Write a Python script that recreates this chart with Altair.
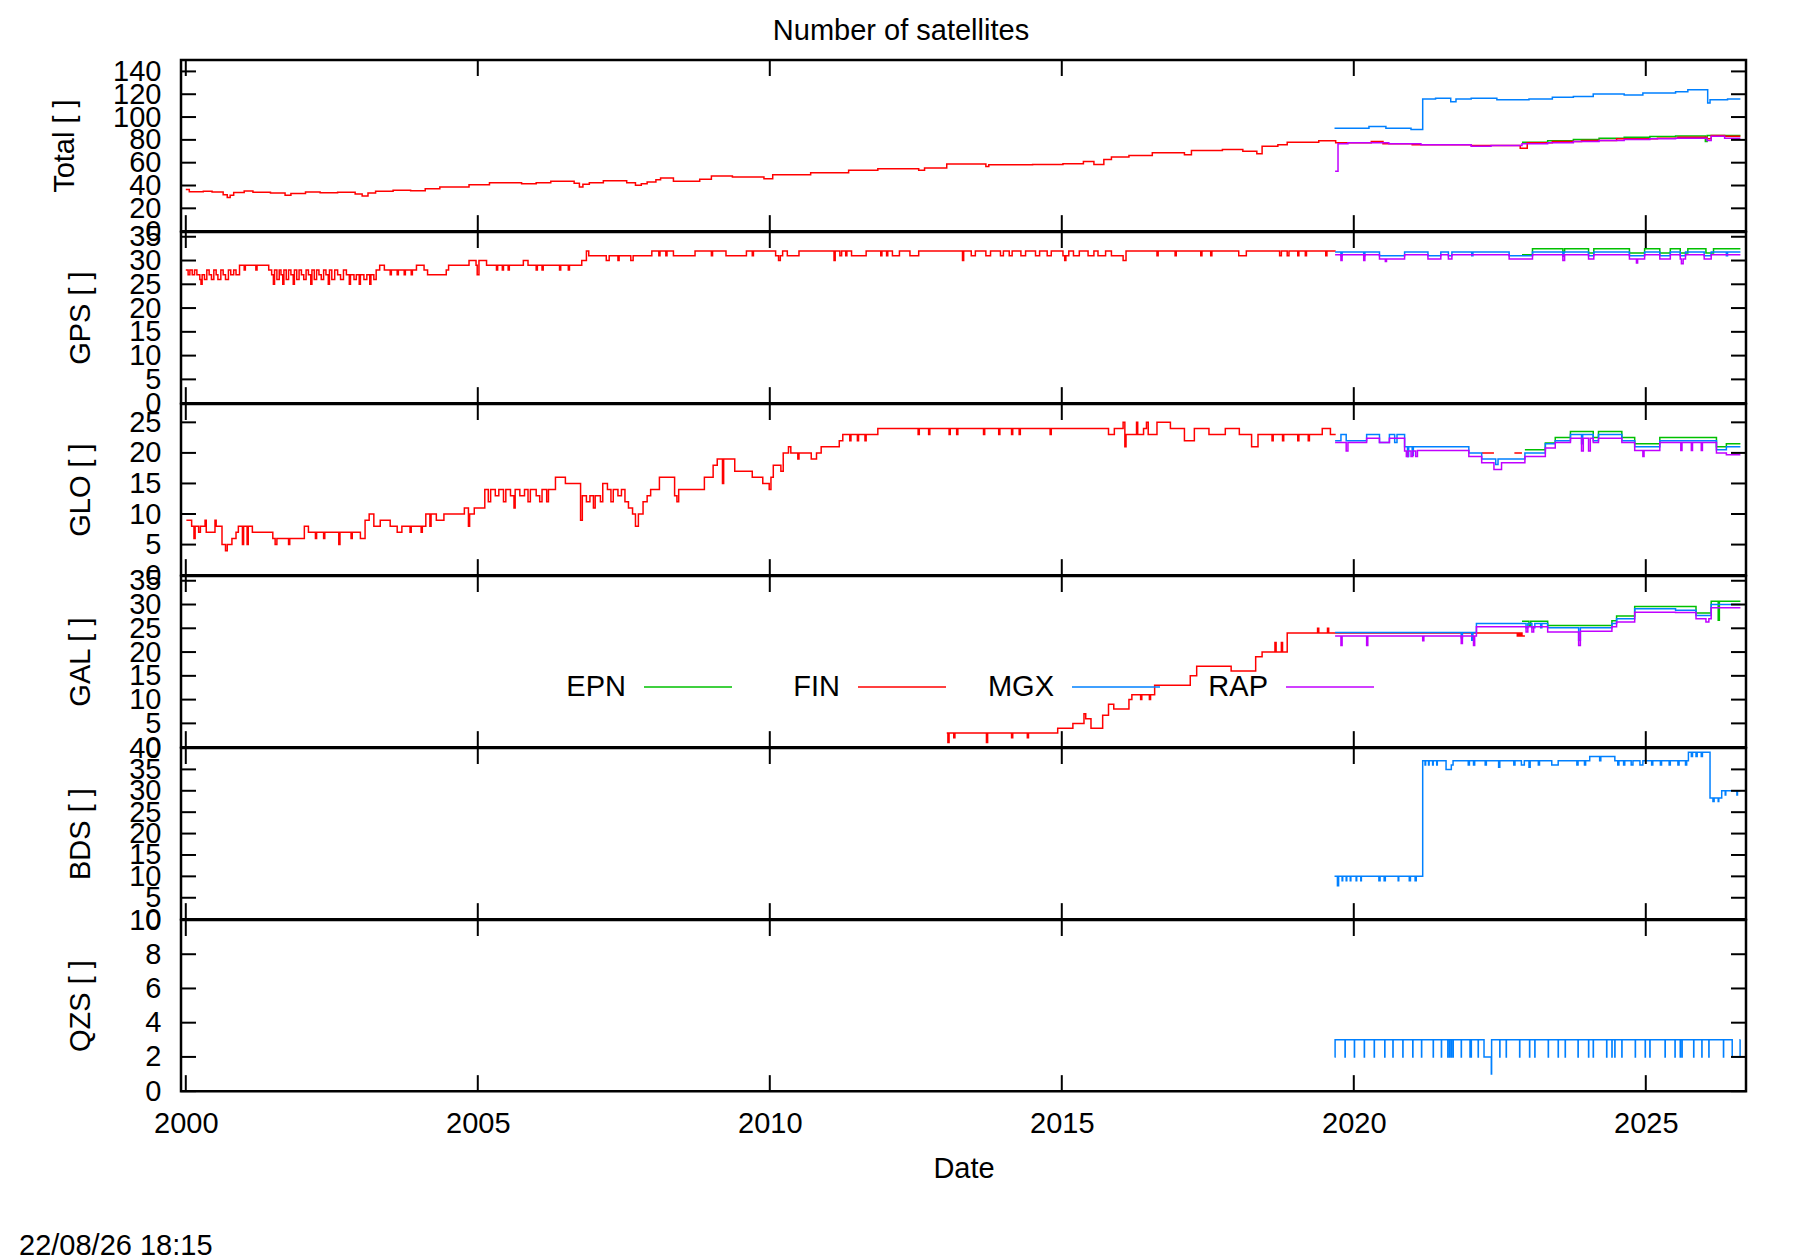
import altair as alt
import pandas as pd

# ---------------- axis ranges / ticks ----------------
X0, X1 = 1999.918, 2026.716
YEAR_TICKS = [2000, 2005, 2010, 2015, 2020, 2025]
TOT_TICKS = [0, 20, 40, 60, 80, 100, 120, 140]
GPS_TICKS = [0, 5, 10, 15, 20, 25, 30, 35]
GLO_TICKS = [0, 5, 10, 15, 20, 25]
GAL_TICKS = [0, 5, 10, 15, 20, 25, 30, 35]
BDS_TICKS = [0, 5, 10, 15, 20, 25, 30, 35, 40]
QZS_TICKS = [0, 2, 4, 6, 8, 10]
SERIES = ["EPN", "FIN", "MGX", "RAP"]
COLORS = ["#00c000", "#ff0000", "#0080ff", "#c000ff"]
STAMP = "22/08/26 18:15"

# ---------------- Total ----------------
TOT_FIN = [(2000.00, 36.4), (2000.06, 34.5), (2000.30, 35.0), (2000.45, 34.3), (2000.64, 32.0), (2000.71, 29.5),
           (2000.76, 31.5), (2000.82, 33.8), (2001.00, 35.2), (2001.15, 34.0), (2001.45, 33.5), (2001.70, 31.4),
           (2001.80, 33.0), (2002.05, 34.3), (2002.30, 33.6), (2002.60, 34.0), (2002.90, 32.5), (2003.02, 30.8),
           (2003.12, 33.5), (2003.25, 34.9), (2003.55, 35.8), (2003.85, 35.5), (2004.10, 37.2), (2004.35, 38.7),
           (2004.85, 40.7), (2005.20, 42.5), (2005.75, 41.6), (2006.00, 42.5), (2006.25, 43.7), (2006.65, 42.0),
           (2006.74, 38.7), (2006.80, 41.0), (2006.91, 42.5), (2007.15, 44.2), (2007.55, 42.5), (2007.70, 40.2),
           (2007.80, 41.5), (2007.90, 43.0), (2008.05, 45.0), (2008.13, 46.6), (2008.35, 43.7), (2008.80, 45.5),
           (2009.00, 48.3), (2009.36, 47.4), (2009.90, 46.0), (2010.05, 49.5), (2010.70, 51.2), (2011.35, 53.3),
           (2011.85, 54.7), (2012.55, 53.3), (2012.65, 55.3), (2013.03, 58.8), (2013.70, 56.7), (2013.75, 58.2),
           (2014.50, 58.5), (2015.02, 59.0), (2015.37, 61.1), (2015.55, 58.5), (2015.72, 62.9), (2015.85, 64.9),
           (2016.15, 66.3), (2016.55, 68.7), (2017.10, 66.9), (2017.22, 70.7), (2017.75, 71.6), (2018.10, 70.1),
           (2018.34, 67.8), (2018.43, 74.5), (2018.70, 75.7), (2018.86, 78.0), (2019.40, 79.2), (2019.69, 77.4),
           (2020.30, 78.6), (2020.50, 76.5), (2021.00, 75.7), (2022.01, 75.0), (2022.85, 72.7), (2022.97, 77.4),
           (2023.40, 78.6), (2023.90, 79.4), (2024.50, 80.9), (2025.20, 81.5), (2025.55, 82.4), (2026.05, 80.9),
           (2026.12, 83.8), (2026.35, 83.2), (2026.62, 83.2)]
TOT_MGX = [(2019.67, 90.2), (2020.26, 91.7), (2020.55, 90.2), (2020.98, 89.0), (2021.18, 115.8), (2021.40, 116.4),
           (2021.66, 113.5), (2021.75, 115.8), (2022.01, 116.4), (2022.45, 115.2), (2023.00, 115.8), (2023.40, 117.3),
           (2023.76, 118.1), (2024.10, 120.2), (2024.63, 119.3), (2024.95, 121.1), (2025.51, 122.2), (2025.72, 124.0),
           (2026.06, 112.3), (2026.10, 115.2), (2026.40, 115.8), (2026.62, 115.8)]
TOT_RAP = [(2019.68, 52.4), (2019.73, 76.5), (2019.90, 77.4), (2020.60, 76.5), (2021.15, 75.7), (2022.01, 74.5),
           (2022.35, 75.0), (2022.88, 76.5), (2023.32, 77.4), (2023.76, 78.6), (2024.20, 79.4), (2024.63, 80.3),
           (2025.07, 80.9), (2025.51, 81.5), (2026.05, 79.4), (2026.12, 83.2), (2026.35, 81.5), (2026.62, 81.5)]
TOT_EPN = [(2022.88, 78.0), (2023.32, 79.2), (2023.76, 80.3), (2024.20, 81.5), (2024.63, 82.4), (2025.07, 82.9),
           (2025.51, 83.5), (2026.02, 78.6), (2026.05, 83.8), (2026.62, 83.8)]

# ---------------- GPS ----------------
GPS_FIN = [(2000.00, 28), (2000.04, 27), (2000.07, 28), (2000.11, 27), (2000.15, 28), (2000.19, 27), (2000.24, 26),
           (2000.26, 25), (2000.28, 27), (2000.32, 26), (2000.36, 28), (2000.40, 27), (2000.44, 26), (2000.48, 28),
           (2000.52, 27), (2000.55, 26), (2000.60, 28), (2000.64, 27), (2000.68, 26), (2000.73, 28), (2000.77, 27),
           (2000.82, 28), (2000.86, 27), (2000.92, 29), (2001.00, 28), (2001.02, 29), (2001.20, 28), (2001.22, 29),
           (2001.42, 28), (2001.47, 27), (2001.50, 25), (2001.52, 28), (2001.56, 26), (2001.60, 28), (2001.63, 27),
           (2001.66, 25), (2001.68, 28), (2001.72, 26), (2001.76, 28), (2001.80, 27), (2001.84, 25), (2001.86, 28),
           (2001.90, 26), (2001.94, 28), (2001.98, 27), (2002.02, 26), (2002.06, 28), (2002.10, 27), (2002.14, 25),
           (2002.16, 28), (2002.20, 26), (2002.24, 28), (2002.28, 27), (2002.32, 26), (2002.36, 28), (2002.40, 27),
           (2002.44, 25), (2002.46, 28), (2002.50, 26), (2002.55, 28), (2002.60, 27), (2002.65, 26), (2002.70, 28),
           (2002.75, 27), (2002.80, 25), (2002.82, 27), (2002.88, 26), (2002.92, 27), (2002.97, 25), (2002.99, 27),
           (2003.05, 26), (2003.10, 27), (2003.15, 25), (2003.17, 27), (2003.22, 26), (2003.26, 28), (2003.32, 29),
           (2003.40, 28), (2003.50, 27), (2003.52, 28), (2003.62, 27), (2003.64, 28), (2003.74, 27), (2003.76, 28),
           (2003.86, 27), (2003.88, 28), (2003.95, 29), (2004.08, 28), (2004.14, 27), (2004.46, 28), (2004.50, 29),
           (2004.85, 30), (2004.97, 29), (2004.99, 27), (2005.02, 30), (2005.15, 29), (2005.32, 28), (2005.34, 29),
           (2005.42, 28), (2005.44, 29), (2005.52, 28), (2005.54, 29), (2005.78, 30), (2005.86, 29), (2006.00, 28),
           (2006.02, 29), (2006.10, 28), (2006.12, 29), (2006.40, 28), (2006.42, 29), (2006.55, 28), (2006.57, 29),
           (2006.78, 30), (2006.86, 32), (2006.90, 31), (2007.20, 30), (2007.25, 31), (2007.40, 30), (2007.42, 31),
           (2007.62, 30), (2007.66, 31), (2007.98, 32), (2008.10, 31), (2008.12, 32), (2008.22, 31), (2008.24, 32),
           (2008.35, 31), (2008.72, 32), (2009.00, 31), (2009.02, 32), (2009.25, 31), (2009.60, 32), (2009.70, 31),
           (2009.72, 32), (2010.10, 31), (2010.15, 30), (2010.18, 31), (2010.22, 32), (2010.30, 31), (2010.50, 32),
           (2011.10, 30), (2011.12, 32), (2011.20, 31), (2011.23, 32), (2011.30, 31), (2011.32, 32), (2011.40, 31),
           (2011.65, 32), (2011.90, 31), (2011.92, 32), (2012.00, 31), (2012.02, 32), (2012.10, 31), (2012.22, 32),
           (2012.40, 31), (2012.55, 32), (2013.30, 30), (2013.32, 32), (2013.45, 31), (2013.52, 32), (2013.70, 31),
           (2013.78, 32), (2013.95, 31), (2014.00, 32), (2014.10, 31), (2014.15, 32), (2014.30, 31), (2014.38, 32),
           (2014.55, 31), (2014.62, 32), (2014.75, 31), (2014.82, 32), (2015.02, 31), (2015.05, 30), (2015.07, 31),
           (2015.12, 32), (2015.20, 31), (2015.30, 32), (2015.45, 31), (2015.55, 32), (2015.62, 31), (2015.75, 32),
           (2015.85, 31), (2016.05, 30), (2016.10, 32), (2016.63, 31), (2016.65, 32), (2016.94, 31), (2016.96, 32),
           (2017.38, 31), (2017.40, 32), (2017.55, 31), (2017.57, 32), (2018.03, 31), (2018.16, 32), (2018.73, 31),
           (2018.76, 32), (2018.86, 31), (2018.89, 32), (2019.04, 31), (2019.06, 32), (2019.17, 31), (2019.19, 32),
           (2019.52, 31), (2019.54, 32), (2019.69, 32)]
GPS_MGX = [(2019.68, 31.8), (2019.78, 31.0), (2019.80, 31.8), (2020.17, 31.0), (2020.19, 31.8), (2020.44, 31.0),
           (2020.87, 31.8), (2021.27, 31.0), (2021.49, 31.8), (2021.62, 31.0), (2021.68, 31.8), (2022.02, 31.0),
           (2022.04, 31.8), (2022.66, 31.0), (2023.06, 31.8), (2023.58, 30.9), (2023.60, 31.8), (2024.02, 31.0),
           (2024.11, 31.8), (2024.72, 31.0), (2024.98, 31.8), (2025.24, 31.0), (2025.42, 31.8), (2025.59, 31.0),
           (2025.68, 31.8), (2026.00, 31.0), (2026.12, 31.8), (2026.38, 31.0), (2026.40, 31.8), (2026.62, 31.8)]
GPS_RAP = [(2019.68, 31.2), (2019.78, 30.0), (2019.80, 31.2), (2020.17, 30.0), (2020.19, 31.2), (2020.44, 30.3),
           (2020.54, 29.8), (2020.56, 30.3), (2020.87, 31.2), (2021.27, 30.3), (2021.49, 31.2), (2021.62, 30.3),
           (2021.68, 31.2), (2022.66, 30.3), (2023.06, 31.2), (2023.58, 30.0), (2023.61, 31.2), (2024.02, 30.3),
           (2024.11, 31.2), (2024.72, 30.3), (2024.84, 29.5), (2024.86, 30.3), (2024.98, 31.2), (2025.24, 30.3),
           (2025.42, 31.2), (2025.59, 30.3), (2025.61, 29.3), (2025.64, 30.3), (2025.68, 31.2), (2026.00, 30.3),
           (2026.12, 31.2), (2026.62, 31.2)]
GPS_EPN = [(2022.88, 31.2), (2023.06, 32.5), (2023.58, 31.8), (2023.61, 32.5), (2024.02, 31.6), (2024.11, 32.5),
           (2024.72, 31.6), (2024.98, 32.5), (2025.24, 31.6), (2025.42, 32.5), (2025.59, 31.6), (2025.72, 32.5),
           (2026.03, 31.6), (2026.16, 32.5), (2026.62, 32.5)]

# ---------------- GLONASS ----------------
GLO_FIN = [(2000.01, 9), (2000.10, 8), (2000.14, 6), (2000.16, 8), (2000.22, 7), (2000.25, 8), (2000.33, 9),
           (2000.35, 7), (2000.45, 7), (2000.50, 9), (2000.52, 8), (2000.62, 5), (2000.68, 4), (2000.71, 5),
           (2000.79, 6), (2000.86, 7), (2000.90, 8), (2000.97, 5), (2000.99, 8), (2001.05, 5), (2001.07, 8),
           (2001.14, 7), (2001.49, 6), (2001.53, 5), (2001.56, 6), (2001.76, 5), (2001.78, 6), (2002.03, 8),
           (2002.10, 7), (2002.22, 6), (2002.24, 7), (2002.36, 6), (2002.38, 7), (2002.62, 5), (2002.64, 7),
           (2002.83, 6), (2002.85, 7), (2002.99, 6), (2003.07, 9), (2003.14, 10), (2003.22, 8), (2003.33, 9),
           (2003.50, 8), (2003.62, 7), (2003.70, 8), (2003.84, 7), (2003.86, 8), (2004.03, 7), (2004.05, 8),
           (2004.11, 10), (2004.18, 8), (2004.20, 10), (2004.29, 9), (2004.42, 10), (2004.77, 11), (2004.84, 8),
           (2004.86, 10), (2004.94, 11), (2005.12, 14), (2005.18, 12), (2005.22, 14), (2005.30, 13), (2005.36, 14),
           (2005.44, 12), (2005.48, 14), (2005.56, 13), (2005.62, 11), (2005.64, 14), (2005.72, 13), (2005.80, 14),
           (2005.86, 12), (2005.90, 14), (2006.00, 13), (2006.06, 12), (2006.10, 14), (2006.18, 12), (2006.21, 14),
           (2006.33, 16), (2006.50, 15), (2006.76, 9), (2006.79, 13), (2006.86, 12), (2006.92, 13), (2006.98, 11),
           (2007.01, 13), (2007.10, 12), (2007.14, 15), (2007.22, 14), (2007.28, 12), (2007.32, 14), (2007.40, 13),
           (2007.46, 14), (2007.52, 12), (2007.58, 11), (2007.65, 10), (2007.70, 8), (2007.75, 10), (2007.83, 12),
           (2007.90, 13), (2007.96, 14), (2008.11, 16), (2008.37, 13), (2008.41, 12), (2008.44, 14), (2008.88, 16),
           (2009.03, 18), (2009.10, 19), (2009.19, 15), (2009.21, 19), (2009.40, 17), (2009.70, 16), (2009.88, 15),
           (2009.99, 14), (2010.02, 16), (2010.06, 18), (2010.19, 17), (2010.23, 20), (2010.32, 21), (2010.36, 20),
           (2010.48, 19), (2010.50, 20), (2010.71, 19), (2010.80, 20), (2010.88, 21), (2011.19, 22), (2011.25, 23),
           (2011.37, 22), (2011.39, 23), (2011.50, 22), (2011.52, 23), (2011.63, 22), (2011.65, 23), (2011.85, 24),
           (2012.54, 23), (2012.56, 24), (2012.72, 23), (2012.74, 24), (2013.07, 23), (2013.09, 24), (2013.20, 23),
           (2013.22, 24), (2013.66, 23), (2013.68, 24), (2013.92, 23), (2013.94, 24), (2014.14, 23), (2014.16, 24),
           (2014.27, 23), (2014.29, 24), (2014.80, 23), (2014.82, 24), (2015.80, 23), (2015.90, 24), (2016.05, 25),
           (2016.08, 21), (2016.10, 23), (2016.28, 25), (2016.30, 23), (2016.40, 24), (2016.45, 25), (2016.48, 23),
           (2016.63, 25), (2016.86, 24), (2017.10, 22), (2017.27, 24), (2017.52, 23), (2017.80, 24), (2018.04, 23),
           (2018.25, 21), (2018.36, 23), (2018.60, 22), (2018.62, 23), (2018.78, 22), (2018.80, 23), (2019.04, 22),
           (2019.06, 23), (2019.22, 22), (2019.24, 23), (2019.46, 24), (2019.60, 23), (2019.69, 23)]
GLO_FIN_B = [(2022.19, 20), (2022.40, 20)]
GLO_FIN_C = [(2022.75, 20), (2022.88, 20)]
GLO_MGX = [(2019.68, 22), (2019.78, 23), (2019.87, 22), (2020.22, 23), (2020.44, 21.7), (2020.61, 23), (2020.70, 21.7),
           (2020.74, 23), (2020.87, 21), (2020.92, 19.4), (2020.94, 21), (2021.00, 19.6), (2021.02, 21), (2021.97, 20),
           (2022.19, 19), (2022.43, 18.1), (2022.47, 19), (2022.93, 20), (2023.28, 21.5), (2023.45, 22), (2023.71, 23),
           (2023.90, 21.5), (2023.92, 23), (2024.10, 22), (2024.19, 23), (2024.59, 22), (2024.81, 21), (2025.24, 22),
           (2026.21, 20.5), (2026.38, 21), (2026.62, 21)]
GLO_RAP = [(2019.68, 21.7), (2019.87, 20.3), (2019.90, 21.7), (2020.22, 22.4), (2020.44, 21.7), (2020.61, 22.4),
           (2020.87, 20.3), (2020.90, 19.4), (2020.93, 20.3), (2020.98, 19.4), (2021.01, 20.3), (2021.06, 19.4),
           (2021.09, 20.4), (2021.97, 19.4), (2022.19, 18.4), (2022.40, 17.3), (2022.53, 18.4), (2022.93, 19.4),
           (2023.28, 20.8), (2023.45, 21.7), (2023.71, 22.4), (2023.90, 20.3), (2023.93, 22.4), (2024.02, 20.3),
           (2024.05, 22.4), (2024.10, 21.7), (2024.19, 22.4), (2024.59, 21.7), (2024.81, 20.4), (2024.95, 19.4),
           (2024.97, 20.4), (2025.24, 21.7), (2025.60, 20.4), (2025.62, 21.7), (2025.78, 20.4), (2025.80, 21.7),
           (2025.95, 20.4), (2025.97, 21.7), (2026.21, 20.0), (2026.38, 19.7), (2026.62, 19.7)]
GLO_EPN = [(2022.93, 20.5), (2023.28, 21.6), (2023.45, 22.5), (2023.71, 23.5), (2024.10, 22.5), (2024.19, 23.5),
           (2024.59, 22.5), (2024.81, 21.5), (2025.24, 22.5), (2026.21, 21.0), (2026.38, 21.5), (2026.62, 21.5)]

# ---------------- Galileo ----------------
GAL_FIN = [(2013.03, 3), (2013.05, 1), (2013.07, 3), (2013.15, 2), (2013.17, 3), (2013.71, 1), (2013.73, 3),
           (2014.14, 2), (2014.16, 3), (2014.41, 2), (2014.43, 3), (2014.93, 4), (2015.19, 5), (2015.38, 7),
           (2015.41, 6), (2015.50, 4), (2015.70, 6.7), (2015.80, 9), (2015.89, 8), (2016.15, 10), (2016.20, 11),
           (2016.35, 10), (2016.37, 11), (2016.50, 10), (2016.52, 11), (2016.59, 13), (2017.20, 15), (2017.31, 17),
           (2017.90, 16), (2018.32, 19), (2018.43, 20), (2018.65, 22), (2018.67, 20), (2018.76, 22), (2018.78, 20),
           (2018.86, 24), (2019.38, 25), (2019.40, 24), (2019.55, 25), (2019.57, 24), (2022.80, 23.4), (2022.82, 24),
           (2022.84, 23.4), (2022.86, 24), (2022.88, 23.4), (2022.93, 23.4)]
GAL_MGX = [(2019.68, 24.1), (2021.84, 23.0), (2021.86, 24.1), (2022.02, 22.5), (2022.04, 24.1), (2022.10, 26.0),
           (2022.95, 25.1), (2022.98, 26.0), (2023.05, 25.1), (2023.10, 26.0), (2023.20, 25.1), (2023.22, 26.0),
           (2023.32, 25.1), (2023.85, 22.5), (2023.88, 25.1), (2024.42, 26.0), (2024.50, 27.0), (2024.81, 29.1),
           (2025.51, 28.8), (2025.86, 27.7), (2026.12, 30.0), (2026.62, 30.0)]
GAL_RAP = [(2019.68, 23.4), (2019.78, 21.4), (2019.80, 23.4), (2020.22, 21.4), (2020.24, 23.4), (2021.18, 22.4),
           (2021.20, 23.4), (2021.84, 21.8), (2021.86, 23.4), (2022.05, 21.4), (2022.07, 23.4), (2022.10, 25.3),
           (2022.95, 24.2), (2022.98, 25.3), (2023.05, 24.2), (2023.08, 25.3), (2023.32, 24.2), (2023.85, 21.4),
           (2023.88, 24.4), (2024.42, 25.3), (2024.50, 26.3), (2024.81, 28.4), (2025.51, 28.3), (2025.86, 27.0),
           (2026.03, 26.3), (2026.08, 27.0), (2026.12, 29.3), (2026.62, 29.3)]
GAL_EPN = [(2022.88, 26.5), (2023.00, 25.6), (2023.03, 26.5), (2023.32, 25.6), (2024.42, 26.6), (2024.50, 27.6),
           (2024.81, 29.6), (2025.86, 28.2), (2026.12, 30.7), (2026.24, 26.7), (2026.26, 30.7), (2026.62, 30.7)]

# ---------------- BeiDou ----------------
BDS_MGX = [(2019.67, 10), (2019.72, 7.8), (2019.74, 10), (2019.80, 9), (2019.81, 10), (2019.87, 9), (2019.88, 10),
           (2019.94, 9), (2019.95, 10), (2020.04, 9), (2020.05, 10), (2020.12, 9), (2020.13, 10), (2020.43, 9),
           (2020.45, 10), (2020.52, 9), (2020.54, 10), (2020.76, 9), (2020.77, 10), (2020.95, 9), (2020.97, 10),
           (2021.05, 9), (2021.07, 10), (2021.18, 37), (2021.22, 36), (2021.23, 37), (2021.28, 36), (2021.29, 37),
           (2021.35, 36), (2021.36, 37), (2021.42, 36), (2021.43, 37), (2021.58, 35), (2021.67, 36), (2021.70, 37),
           (2021.96, 36), (2021.98, 37), (2022.05, 36), (2022.07, 37), (2022.25, 36), (2022.27, 37), (2022.48, 35.5),
           (2022.50, 37), (2022.74, 36), (2022.76, 37), (2022.87, 36), (2022.92, 37), (2023.00, 35.5), (2023.02, 37),
           (2023.16, 36), (2023.18, 37), (2023.39, 36), (2023.50, 37), (2023.82, 36), (2023.84, 37), (2023.95, 36),
           (2023.97, 37), (2024.04, 38), (2024.21, 37), (2024.23, 38), (2024.47, 37), (2024.52, 36), (2024.54, 37),
           (2024.62, 36), (2024.64, 37), (2024.75, 36), (2024.78, 37), (2024.90, 36), (2024.95, 37), (2025.10, 36),
           (2025.12, 37), (2025.25, 36), (2025.27, 37), (2025.40, 36), (2025.42, 37), (2025.55, 36), (2025.57, 37),
           (2025.68, 36), (2025.70, 37), (2025.73, 39), (2025.78, 38), (2025.80, 39), (2025.86, 38), (2025.88, 39),
           (2025.95, 38), (2025.97, 39), (2026.10, 28.3), (2026.15, 27.5), (2026.17, 28.3), (2026.24, 27.5),
           (2026.25, 28.3), (2026.30, 30), (2026.36, 29), (2026.37, 30), (2026.56, 29), (2026.57, 30), (2026.62, 30)]

# ---------------- QZSS ----------------
QZS_MGX = [(2019.67, 2), (2019.68, 3), (2019.85, 2), (2019.853, 3), (2020.01, 2), (2020.013, 3), (2020.18, 2),
           (2020.183, 3), (2020.35, 2), (2020.353, 3), (2020.53, 2), (2020.533, 3), (2020.67, 2), (2020.673, 3),
           (2020.84, 2), (2020.843, 3), (2021.01, 2), (2021.013, 3), (2021.16, 2), (2021.163, 3), (2021.36, 2),
           (2021.363, 3), (2021.50, 2), (2021.503, 3), (2021.61, 2), (2021.613, 3), (2021.64, 2), (2021.643, 3),
           (2021.67, 2), (2021.673, 3), (2021.70, 2), (2021.703, 3), (2021.84, 2), (2021.843, 3), (2021.99, 2),
           (2021.993, 3), (2022.01, 2), (2022.013, 3), (2022.13, 2), (2022.133, 3), (2022.23, 2), (2022.355, 1),
           (2022.36, 3), (2022.50, 2), (2022.503, 3), (2022.61, 2), (2022.613, 3), (2022.84, 2), (2022.843, 3),
           (2023.01, 2), (2023.013, 3), (2023.10, 2), (2023.103, 3), (2023.33, 2), (2023.333, 3), (2023.50, 2),
           (2023.503, 3), (2023.62, 2), (2023.623, 3), (2023.84, 2), (2023.843, 3), (2024.02, 2), (2024.023, 3),
           (2024.10, 2), (2024.103, 3), (2024.33, 2), (2024.333, 3), (2024.42, 2), (2024.423, 3), (2024.47, 2),
           (2024.473, 3), (2024.59, 2), (2024.593, 3), (2024.82, 2), (2024.823, 3), (2024.99, 2), (2024.993, 3),
           (2025.07, 2), (2025.073, 3), (2025.33, 2), (2025.333, 3), (2025.50, 2), (2025.503, 3), (2025.59, 2),
           (2025.593, 3), (2025.62, 2), (2025.623, 3), (2025.82, 2), (2025.823, 3), (2025.96, 2), (2025.963, 3),
           (2026.08, 2), (2026.083, 3), (2026.33, 2), (2026.333, 3), (2026.48, 2), (2026.615, 3), (2026.62, 3)]

# ---------------- layout / style ----------------
W, H = 1565, 171.15
FONT = "Liberation Sans"
FS = 29
TICK_LEN_Y, TICK_LEN_X = 15, 16


def seg_frame(segs):
    rows = []
    for k, seg in enumerate(segs):
        for t, v in seg:
            rows.append({"t": t, "v": v, "seg": k})
    return pd.DataFrame(rows)


def panel(ytitle, ymax, yticks, series, bottom=False, extra=()):
    xs = alt.Scale(domain=[X0, X1], nice=False, zero=False)
    ys = alt.Scale(domain=[0, ymax], nice=False, zero=False)
    yaxis = alt.Axis(values=yticks, title=ytitle, format="d", labelFont=FONT, labelFontSize=FS,
                     labelColor="black", labelPadding=20, labelOverlap=False, labelFlush=False,
                     titleFont=FONT, titleFontSize=FS, titleFontWeight="normal", titleColor="black",
                     titlePadding=33, domain=False, ticks=False, tickSize=0, grid=False)
    if bottom:
        xaxis = alt.Axis(values=YEAR_TICKS, title="Date", format="d", labelFont=FONT, labelFontSize=FS,
                         labelColor="black", labelPadding=18, labelOverlap=False, labelFlush=False,
                         titleFont=FONT, titleFontSize=FS, titleFontWeight="normal", titleColor="black",
                         titlePadding=16, domain=False, ticks=False, tickSize=0, grid=False)
    else:
        xaxis = None
    X = alt.X("t:Q", scale=xs, axis=xaxis, title="Date")
    Y = alt.Y("v:Q", scale=ys, axis=yaxis, title=ytitle)
    layers = []
    for name, color in zip(SERIES, COLORS):
        if name not in series:
            continue
        layers.append(
            alt.Chart(seg_frame(series[name])).mark_line(
                interpolate="step-after", color=color, strokeWidth=1.5, clip=True
            ).encode(x=X, y=Y, detail="seg:N")
        )
    ydf = pd.DataFrame({"v": yticks})
    xdf = pd.DataFrame({"t": YEAR_TICKS})
    rule = dict(color="black", strokeWidth=2)
    layers += [
        alt.Chart(ydf).mark_rule(**rule).encode(y=Y, x=alt.value(0), x2=alt.value(TICK_LEN_Y)),
        alt.Chart(ydf).mark_rule(**rule).encode(y=Y, x=alt.value(W - TICK_LEN_Y), x2=alt.value(W)),
        alt.Chart(xdf).mark_rule(**rule).encode(x=X, y=alt.value(0), y2=alt.value(TICK_LEN_X)),
        alt.Chart(xdf).mark_rule(**rule).encode(x=X, y=alt.value(H - TICK_LEN_X), y2=alt.value(H)),
    ]
    layers += list(extra)
    return alt.layer(*layers).properties(width=W, height=H)


one = pd.DataFrame({"a": [0]})


def label(text, x, y, align):
    return alt.Chart(one).mark_text(font=FONT, fontSize=FS, color="black", align=align,
                                    baseline="middle").encode(
        x=alt.value(x), y=alt.value(y), text=alt.value(text))


title_mark = label("Number of satellites", 720, -29, "center")
stamp_mark = label(STAMP, -162, 326, "left")

legend_marks = []
for i, (name, color) in enumerate(zip(SERIES, COLORS)):
    legend_marks.append(label(name, 445 + 214 * i, 111, "right"))
    legend_marks.append(
        alt.Chart(one).mark_rule(color=color, strokeWidth=1.5).encode(
            x=alt.value(463 + 214 * i), x2=alt.value(551 + 214 * i), y=alt.value(111)))

p_tot = panel("Total [ ]", 150, TOT_TICKS,
              {"EPN": [TOT_EPN], "FIN": [TOT_FIN], "MGX": [TOT_MGX], "RAP": [TOT_RAP]},
              extra=[title_mark])
p_gps = panel("GPS [ ]", 36, GPS_TICKS,
              {"EPN": [GPS_EPN], "FIN": [GPS_FIN], "MGX": [GPS_MGX], "RAP": [GPS_RAP]})
p_glo = panel("GLO [ ]", 28, GLO_TICKS,
              {"EPN": [GLO_EPN], "FIN": [GLO_FIN, GLO_FIN_B, GLO_FIN_C], "MGX": [GLO_MGX], "RAP": [GLO_RAP]})
p_gal = panel("GAL [ ]", 36, GAL_TICKS,
              {"EPN": [GAL_EPN], "FIN": [GAL_FIN], "MGX": [GAL_MGX], "RAP": [GAL_RAP]},
              extra=legend_marks)
p_bds = panel("BDS [ ]", 40, BDS_TICKS, {"MGX": [BDS_MGX]})
p_qzs = panel("QZS [ ]", 10, QZS_TICKS, {"MGX": [QZS_MGX]}, bottom=True, extra=[stamp_mark])

chart = alt.vconcat(p_tot, p_gps, p_glo, p_gal, p_bds, p_qzs, spacing=0, bounds="flush").properties(
    padding={"left": 9, "top": 7, "right": 10, "bottom": 2},
    background="white",
).configure_view(stroke="black", strokeWidth=2.5)

chart.save("out.html", embed_options={"renderer": "svg", "actions": False})
